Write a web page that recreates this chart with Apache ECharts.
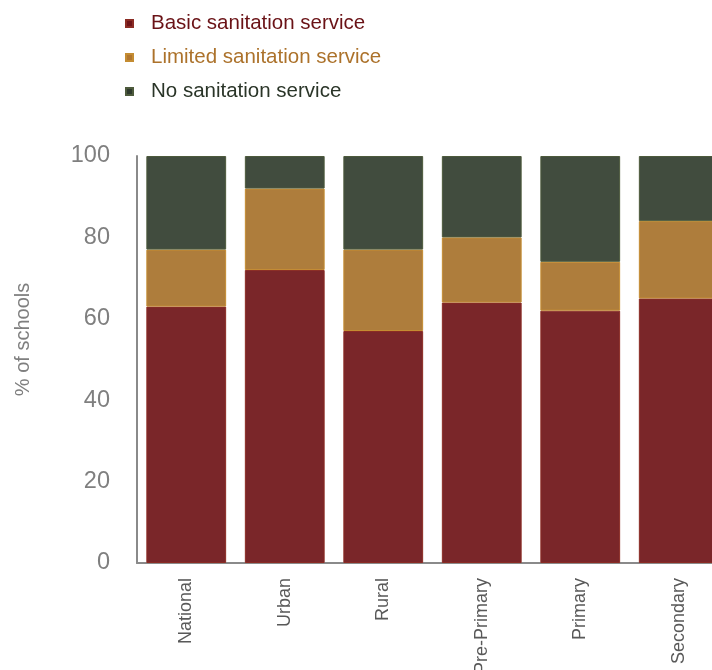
<!DOCTYPE html>
<html>
<head>
<meta charset="utf-8">
<script src="https://cdn.jsdelivr.net/npm/echarts@6/dist/echarts.min.js"></script>
<style>html,body{margin:0;padding:0;background:#fff}#c{width:712px;height:670px}</style>
</head>
<body>
<div id="c"></div>
<script>
var categories = ['National', 'Urban', 'Rural', 'Pre-Primary', 'Primary', 'Secondary'];
var basicValues = [63, 72, 57, 64, 62, 65];
var limitedValues = [14, 20, 20, 16, 12, 19];
var noValues = [23, 8, 23, 20, 26, 16];
var yTicks = [0, 20, 40, 60, 80, 100];

var chart = echarts.init(document.getElementById('c'));
var font = 'Liberation Sans, Arial, sans-serif';
chart.setOption({
  animation: false,
  legend: {
    orient: 'vertical',
    left: 120,
    top: 7,
    icon: 'rect',
    itemWidth: 7,
    itemHeight: 7,
    itemGap: 11,
    selectedMode: false,
    textStyle: { fontFamily: font, fontSize: 20.5, lineHeight: 23, padding: [0, 0, 0, 13], color: 'inherit' },
    data: [
      { name: 'Basic sanitation service', itemStyle: { color: '#6e1418' }, textStyle: { color: '#6a1216' } },
      { name: 'Limited sanitation service', itemStyle: { color: '#b0762f' }, textStyle: { color: '#ac722b' } },
      { name: 'No sanitation service', itemStyle: { color: '#2f3a2d' }, textStyle: { color: '#2a3528' } }
    ]
  },
  grid: { left: 137, top: 156, width: 591, height: 407, containLabel: false, outerBoundsMode: 'none' },
  xAxis: {
    type: 'category',
    data: categories,
    axisLine: { lineStyle: { color: '#8a8a8a', width: 2 } },
    axisTick: { show: false },
    axisLabel: { rotate: 90, margin: 15, fontFamily: font, fontSize: 18, color: '#595959', interval: 0 }
  },
  yAxis: {
    type: 'value',
    min: 0, max: 100, interval: 20,
    name: '% of schools',
    nameLocation: 'middle',
    nameGap: 104,
    nameTextStyle: { fontFamily: font, fontSize: 20, color: '#7f7f7f', padding: [0, 0, 0, 40] },
    axisLine: { show: true, lineStyle: { color: '#8a8a8a', width: 2 } },
    axisTick: { show: false },
    splitLine: { show: false },
    axisLabel: {
      margin: 27, fontFamily: font, fontSize: 23.5, color: '#7f7f7f',
      formatter: function (v) { return yTicks.indexOf(v) >= 0 ? String(v) : ''; }
    }
  },
  series: [
    { name: 'Basic sanitation service', type: 'bar', stack: 's', data: basicValues, barCategoryGap: '19%',
      itemStyle: { color: '#7a2629', borderColor: '#8b2c24', borderWidth: 1 } },
    { name: 'Limited sanitation service', type: 'bar', stack: 's', data: limitedValues,
      itemStyle: { color: '#ae7d3c', borderColor: '#c48c32', borderWidth: 1 } },
    { name: 'No sanitation service', type: 'bar', stack: 's', data: noValues,
      itemStyle: { color: '#414c3e', borderColor: '#4d5a3c', borderWidth: 1 } }
  ]
});
</script>
</body>
</html>
